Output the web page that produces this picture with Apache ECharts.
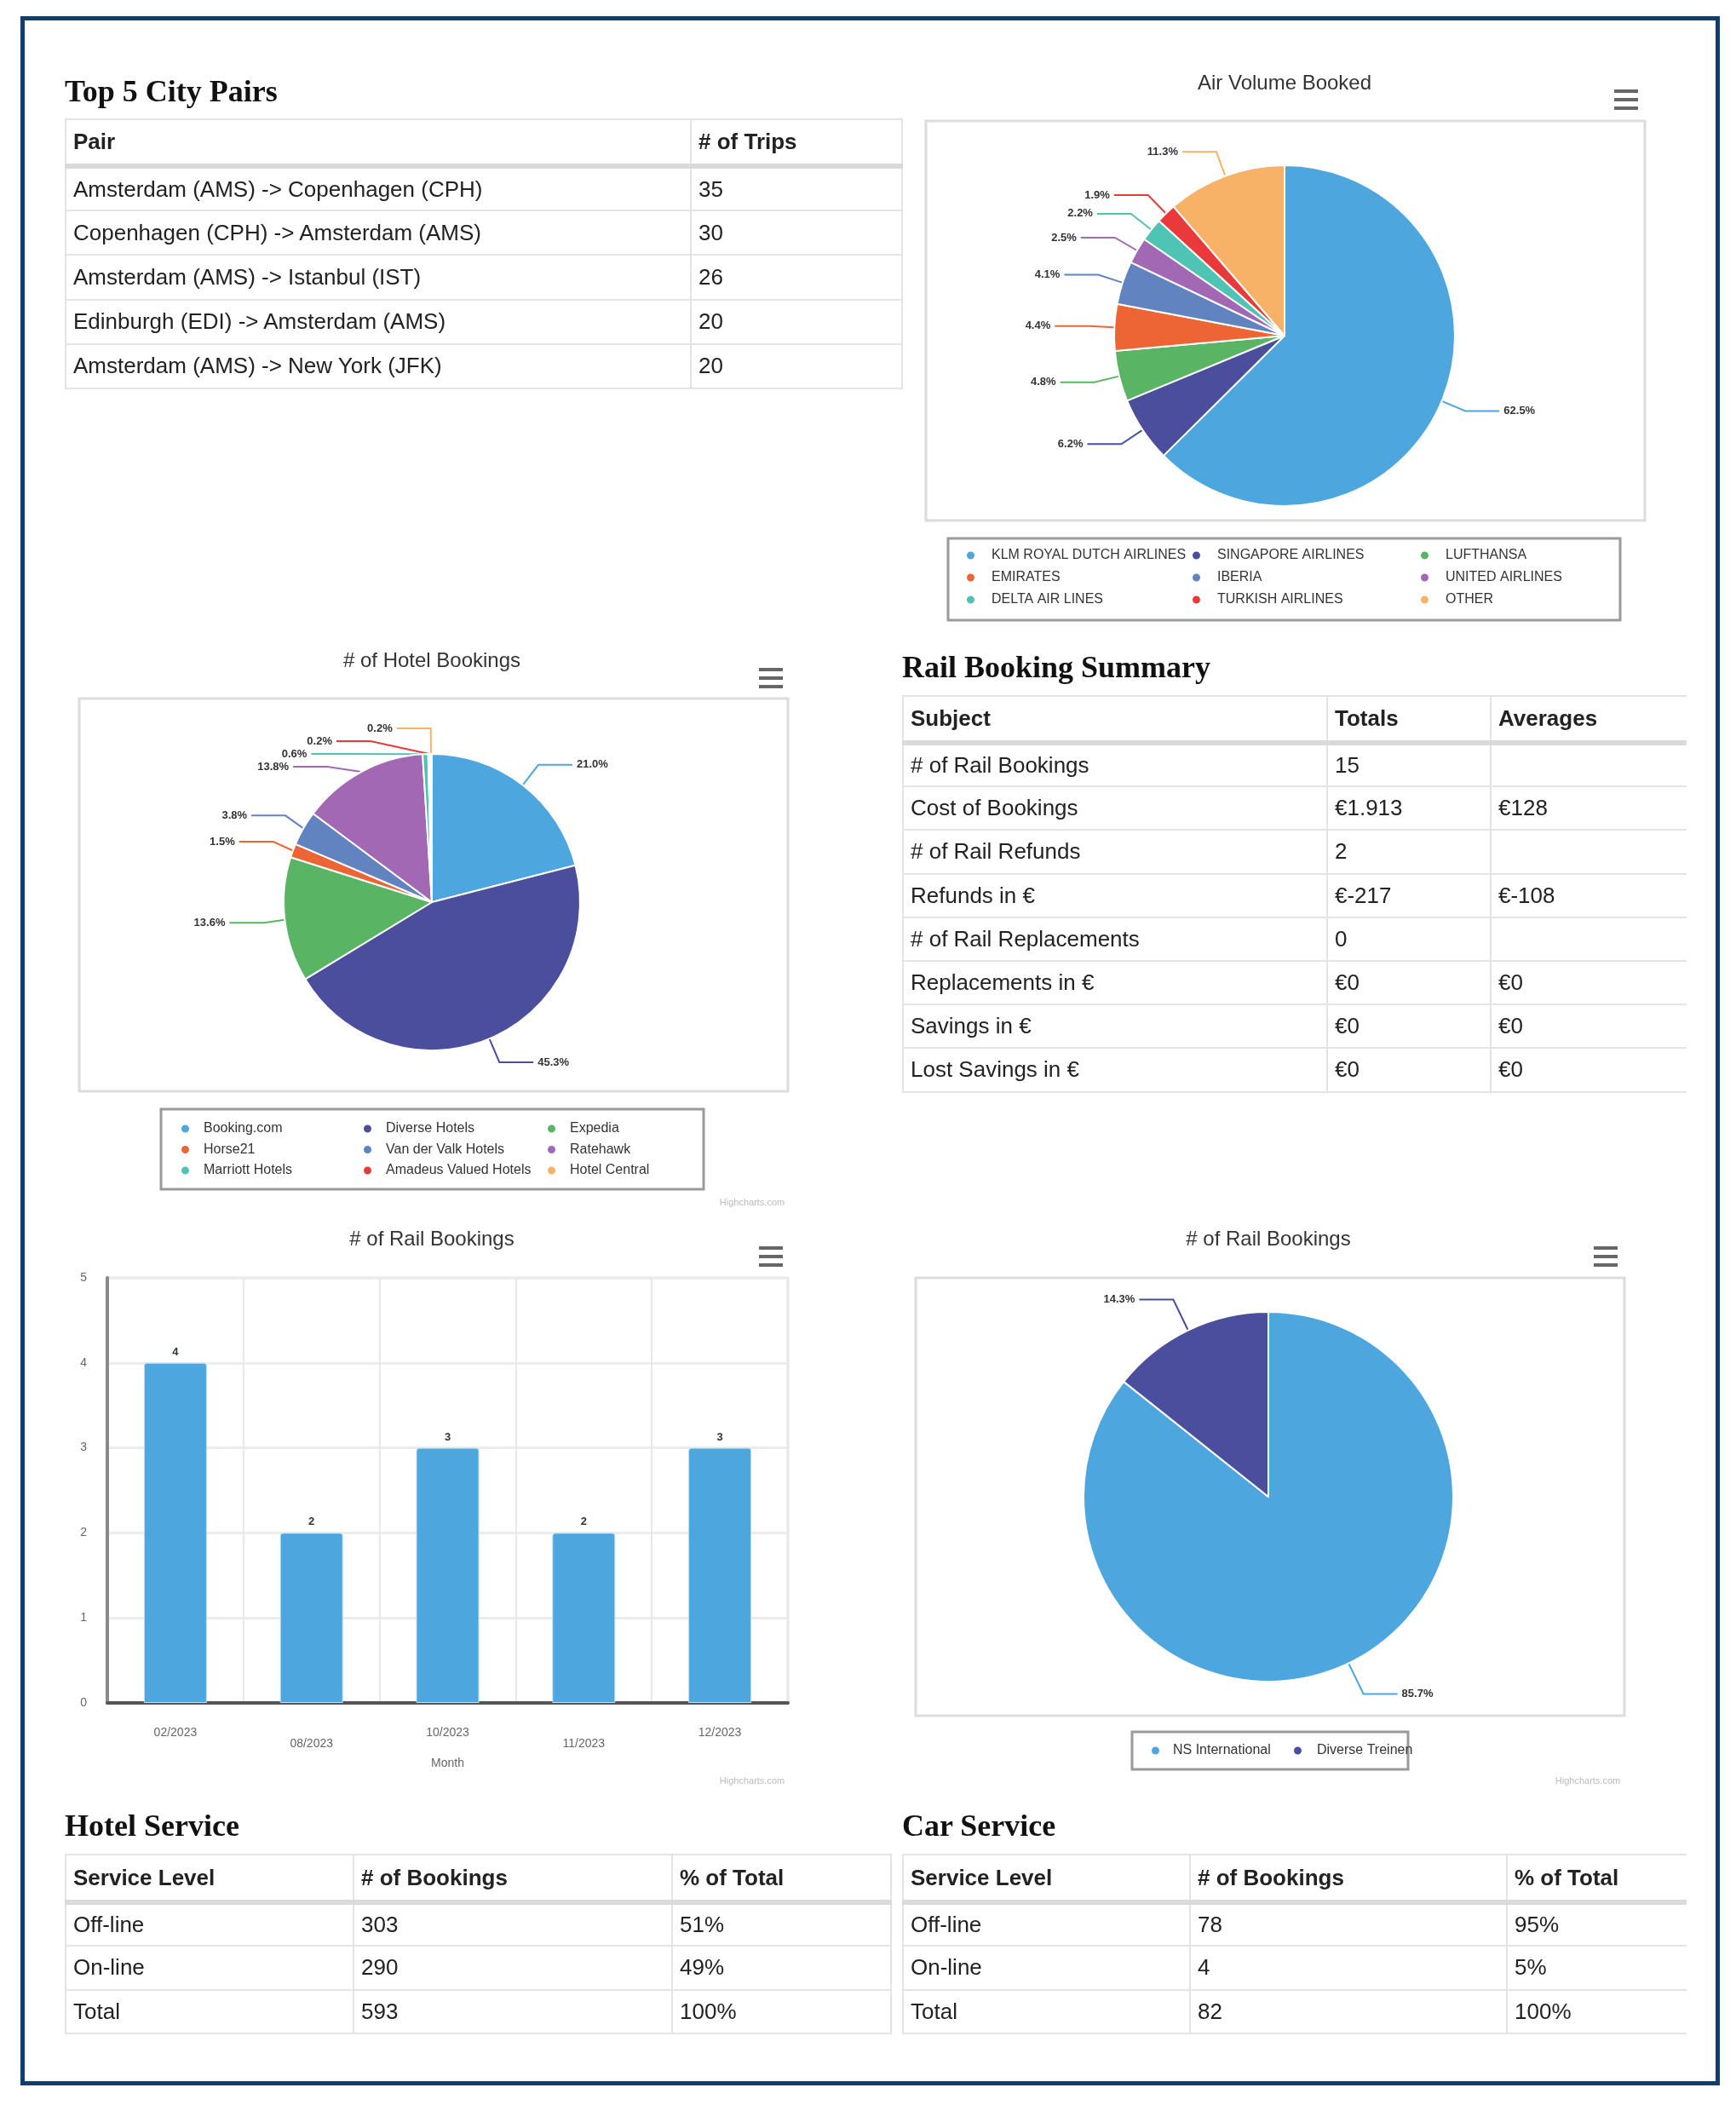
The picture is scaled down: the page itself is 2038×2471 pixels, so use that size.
<!DOCTYPE html>
<html>
<head>
<meta charset="utf-8">
<script src="https://cdn.jsdelivr.net/npm/echarts@6/dist/echarts.min.js"></script>
<style>
html,body{margin:0;padding:0;background:#fff;}
#page{position:relative;width:2038px;height:2471px;overflow:hidden;background:#fff;}
#chart{position:absolute;left:0;top:0;width:2038px;height:2471px;}
#frame{position:absolute;left:24px;top:19px;width:1995px;height:2429px;border:5px solid #0f3d6e;box-sizing:border-box;pointer-events:none;}
.sec{position:absolute;font-family:'Liberation Serif','Times New Roman',serif;font-weight:bold;font-size:36px;color:#111;line-height:40px;white-space:nowrap;}
table.t{position:absolute;border-collapse:collapse;font-family:'Liberation Sans',Arial,sans-serif;font-size:26px;color:#222;table-layout:fixed;}
table.t td,table.t th{padding:0 0 0 8px;text-align:left;vertical-align:middle;border:2px solid #e4e4e4;white-space:nowrap;overflow:hidden;}
table.t th{font-weight:bold;border-bottom:6px solid #dadada;}
table.t.open td:last-child,table.t.open th:last-child{border-right:none;}
</style>
</head>
<body>
<div id="page">
  <div id="chart"></div>
  <div id="frame"></div>
</div>
<script>
// ---------------- DATA ----------------
const CITY_PAIRS = ['Amsterdam (AMS) -> Copenhagen (CPH)','Copenhagen (CPH) -> Amsterdam (AMS)','Amsterdam (AMS) -> Istanbul (IST)','Edinburgh (EDI) -> Amsterdam (AMS)','Amsterdam (AMS) -> New York (JFK)'];
const CITY_TRIPS = [35, 30, 26, 20, 20];

const AIR_NAMES = ['KLM ROYAL DUTCH AIRLINES','SINGAPORE AIRLINES','LUFTHANSA','EMIRATES','IBERIA','UNITED AIRLINES','DELTA AIR LINES','TURKISH AIRLINES','OTHER'];
const AIR_SHARE = [62.5, 6.2, 4.8, 4.4, 4.1, 2.5, 2.2, 1.9, 11.3];

const HOTEL_NAMES = ['Booking.com','Diverse Hotels','Expedia','Horse21','Van der Valk Hotels','Ratehawk','Marriott Hotels','Amadeus Valued Hotels','Hotel Central'];
const HOTEL_SHARE = [21.0, 45.3, 13.6, 1.5, 3.8, 13.8, 0.6, 0.2, 0.2];

const RAIL_SUBJECTS = ['# of Rail Bookings','Cost of Bookings','# of Rail Refunds','Refunds in €','# of Rail Replacements','Replacements in €','Savings in €','Lost Savings in €'];
const RAIL_TOTALS = ['15','€1.913','2','€-217','0','€0','€0','€0'];
const RAIL_AVERAGES = ['','€128','','€-108','','€0','€0','€0'];

const RAIL_MONTHS = ['02/2023','08/2023','10/2023','11/2023','12/2023'];
const RAIL_COUNTS = [4, 2, 3, 2, 3];

const RAIL_SUPPLIERS = ['NS International','Diverse Treinen'];
const RAIL_SHARE = [85.7, 14.3];

const SERVICE_LEVELS = ['Off-line','On-line','Total'];
const HOTEL_BOOKINGS = [303, 290, 593];
const HOTEL_PCT = ['51%','49%','100%'];
const CAR_BOOKINGS = [78, 4, 82];
const CAR_PCT = ['95%','5%','100%'];

// ---------------- STYLE ----------------
const PALETTE = ['#4da6dd','#4b4d9d','#59b564','#ed6534','#6183c0','#a368b4','#50c4b4','#ea393b','#f7b267'];
const SANS = "'Liberation Sans', Arial, sans-serif";

// ---------------- HTML TABLES & SECTION TITLES ----------------
const page = document.getElementById('page');
function secTitle(text, left, cy) {
  const d = document.createElement('div');
  d.className = 'sec';
  d.textContent = text;
  d.style.left = left + 'px';
  d.style.top = (cy - 20) + 'px';
  page.appendChild(d);
}
function makeTable(left, top, colW, headH, rowH, headers, rows, open) {
  const t = document.createElement('table');
  t.className = 't' + (open ? ' open' : '');
  t.style.left = left + 'px';
  t.style.top = top + 'px';
  t.style.width = colW.reduce((a, b) => a + b, 0) + 'px';
  const cg = document.createElement('colgroup');
  colW.forEach(w => { const c = document.createElement('col'); c.style.width = w + 'px'; cg.appendChild(c); });
  t.appendChild(cg);
  const hr = document.createElement('tr');
  hr.style.height = headH + 'px';
  headers.forEach(h => { const th = document.createElement('th'); th.textContent = h; hr.appendChild(th); });
  t.appendChild(hr);
  rows.forEach(r => {
    const tr = document.createElement('tr');
    tr.style.height = rowH + 'px';
    r.forEach(v => { const td = document.createElement('td'); td.textContent = v; tr.appendChild(td); });
    t.appendChild(tr);
  });
  page.appendChild(t);
}

secTitle('Top 5 City Pairs', 76, 107);
makeTable(76, 139, [734, 248], 55, 52.2, ['Pair', '# of Trips'],
  CITY_PAIRS.map((p, i) => [p, String(CITY_TRIPS[i])]), false);

secTitle('Rail Booking Summary', 1059, 783);
makeTable(1059, 816, [498, 192, 230], 55, 51.2, ['Subject', 'Totals', 'Averages'],
  RAIL_SUBJECTS.map((s, i) => [s, RAIL_TOTALS[i], RAIL_AVERAGES[i]]), true);

secTitle('Hotel Service', 76, 2143);
makeTable(76, 2176, [338, 374, 257], 56, 51.3, ['Service Level', '# of Bookings', '% of Total'],
  SERVICE_LEVELS.map((s, i) => [s, String(HOTEL_BOOKINGS[i]), HOTEL_PCT[i]]), false);

secTitle('Car Service', 1059, 2143);
makeTable(1059, 2176, [337, 372, 211], 56, 51.3, ['Service Level', '# of Bookings', '% of Total'],
  SERVICE_LEVELS.map((s, i) => [s, String(CAR_BOOKINGS[i]), CAR_PCT[i]]), true);

// ---------------- ECHARTS ----------------
const chart = echarts.init(document.getElementById('chart'), null, { renderer: 'canvas' });

function pieData(names, values) {
  return names.map((n, i) => ({ name: n, value: values[i], itemStyle: { color: PALETTE[i % PALETTE.length] } }));
}
function chartTitle(text, cx, cy) {
  return { text, left: cx, top: cy - 13, textAlign: 'center', padding: 0,
    textStyle: { fontFamily: SANS, fontSize: 24, fontWeight: 'normal', color: '#333' } };
}
function legendCol(names, left, top, gap, pad) {
  return { orient: 'vertical', left, top, padding: 0, itemGap: gap, icon: 'circle', itemWidth: 11, itemHeight: 11,
    data: names, selectedMode: false,
    textStyle: { fontFamily: SANS, fontSize: 16, color: '#333', lineHeight: 16, padding: [0, 0, 0, pad] } };
}
function hamburger(cx, cy) {
  return [-10, 0, 10].map(dy => ({ type: 'rect', shape: { x: cx - 14, y: cy + dy - 2, width: 28, height: 4 },
    style: { fill: '#666' }, silent: true }));
}
function box(x1, y1, x2, y2, color, w) {
  return { type: 'rect', z: -1, shape: { x: x1, y: y1, width: x2 - x1, height: y2 - y1 },
    style: { fill: 'none', stroke: color, lineWidth: w }, silent: true };
}
function credit(x, y) {
  return { type: 'text', x, y, style: { text: 'Highcharts.com', fill: '#bbb', font: "11px 'Liberation Sans', Arial, sans-serif", textAlign: 'center', textVerticalAlign: 'middle' }, silent: true };
}
const pctLabel = p => p.value.toFixed(1) + '%';
function pieSeries(names, values, center, radius, len1, len2) {
  return {
    type: 'pie', center, radius, startAngle: 90, clockwise: true, avoidLabelOverlap: true,
    data: pieData(names, values),
    itemStyle: { borderColor: '#fff', borderWidth: 2 },
    label: { show: true, position: 'outside', formatter: pctLabel, fontFamily: SANS, fontSize: 13, fontWeight: 'bold', color: '#333' },
    labelLine: { show: true, length: len1, length2: len2, smooth: false, lineStyle: { width: 2 } },
    emphasis: { disabled: true }
  };
}

const airCols = [[0, 3, 6], [1, 4, 7], [2, 5, 8]].map(c => c.map(i => AIR_NAMES[i]));
const hotelCols = [[0, 3, 6], [1, 4, 7], [2, 5, 8]].map(c => c.map(i => HOTEL_NAMES[i]));

const option = {
  animation: false,
  backgroundColor: 'transparent',
  title: [
    chartTitle('Air Volume Booked', 1508, 99),
    chartTitle('# of Hotel Bookings', 507, 777),
    chartTitle('# of Rail Bookings', 507, 1456),
    chartTitle('# of Rail Bookings', 1489, 1456)
  ],
  legend: [
    legendCol(airCols[0], 1133, 644, 10, 14),
    legendCol(airCols[1], 1398, 644, 10, 14),
    legendCol(airCols[2], 1666, 644, 10, 14),
    legendCol(hotelCols[0], 211, 1317, 8.5, 11),
    legendCol(hotelCols[1], 425, 1317, 8.5, 11),
    legendCol(hotelCols[2], 641, 1317, 8.5, 11),
    legendCol([RAIL_SUPPLIERS[0]], 1350, 2047, 0, 10),
    legendCol([RAIL_SUPPLIERS[1]], 1517, 2047, 0, 12)
  ],
  grid: [{ left: 126, top: 1500, width: 799, height: 499, show: true, borderColor: '#e3e3e3', borderWidth: 3, backgroundColor: 'transparent' }],
  xAxis: [{
    type: 'category', data: RAIL_MONTHS, gridIndex: 0,
    axisLine: { show: true, lineStyle: { color: '#555', width: 4 } },
    axisTick: { show: false },
    splitLine: { show: true, interval: 0, lineStyle: { color: '#e8e8e8', width: 2 } },
    axisLabel: { interval: 0, color: '#666', fontFamily: SANS, fontSize: 14, margin: 29, lineHeight: 13,
      formatter: (v, i) => (i % 2 ? '\n' + v : v) },
    name: 'Month', nameLocation: 'middle', nameGap: 64,
    nameTextStyle: { color: '#666', fontFamily: SANS, fontSize: 14 }
  }],
  yAxis: [{
    type: 'value', gridIndex: 0, min: 0, max: 5, interval: 1,
    axisLine: { show: true, lineStyle: { color: '#8a8a8a', width: 4 } },
    axisTick: { show: false },
    axisLabel: { color: '#666', fontFamily: SANS, fontSize: 14, margin: 24 },
    splitLine: { show: true, lineStyle: { color: '#ececec', width: 3 } }
  }],
  series: [
    pieSeries(AIR_NAMES, AIR_SHARE, [1508, 394], 200, 30, 40),
    pieSeries(HOTEL_NAMES, HOTEL_SHARE, [507, 1059], 174, 30, 40),
    pieSeries(RAIL_SUPPLIERS, RAIL_SHARE, [1489, 1757], 217, 40, 40),
    {
      type: 'bar', xAxisIndex: 0, yAxisIndex: 0, data: RAIL_COUNTS, barWidth: 74,
      itemStyle: { color: PALETTE[0], borderColor: '#bfe0f5', borderWidth: 1, borderRadius: [3, 3, 0, 0] },
      label: { show: true, position: 'top', distance: 6, color: '#333', fontFamily: SANS, fontSize: 13, fontWeight: 'bold' },
      emphasis: { disabled: true }
    }
  ],
  graphic: [
    box(1087, 142, 1931, 611, '#dcdcdc', 3),
    box(93, 820, 925, 1281, '#dcdcdc', 3),
    box(1075, 1500, 1907, 2014, '#dcdcdc', 3),
    box(1113, 632, 1902, 728, '#9a9a9a', 3),
    box(189, 1302, 826, 1396, '#9a9a9a', 3),
    box(1329, 2033, 1653, 2077, '#9a9a9a', 3),
    ...hamburger(1909, 117),
    ...hamburger(905, 796),
    ...hamburger(905, 1475),
    ...hamburger(1885, 1475),
    credit(883, 1412),
    credit(883, 2091),
    credit(1864, 2091)
  ]
};
chart.setOption(option);
</script>
</body>
</html>
